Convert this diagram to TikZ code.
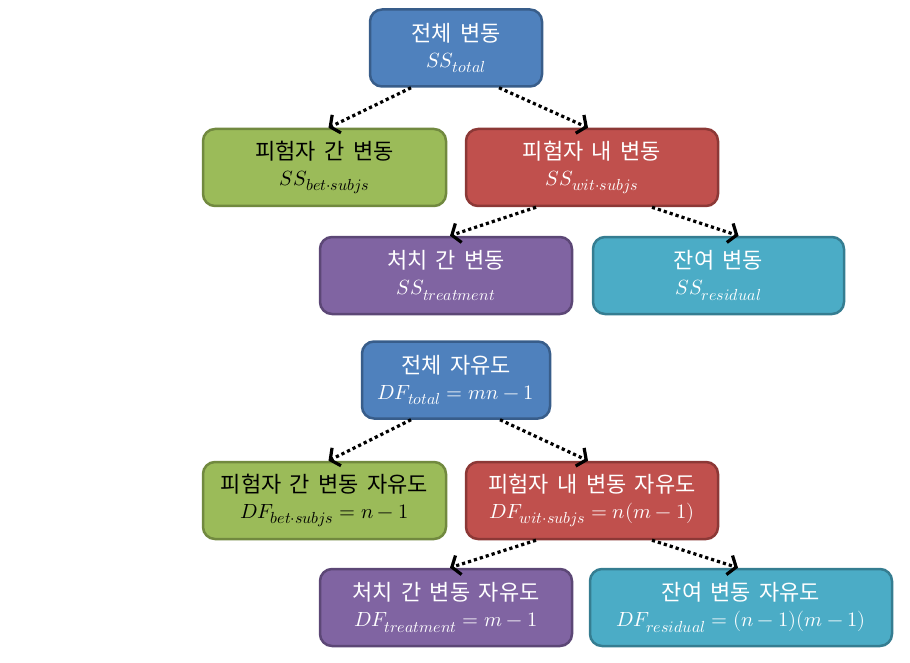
\documentclass[tikz,border=0pt]{standalone}
\usepackage{fontspec}
\usepackage{unicode-math}
\setmainfont{Noto Sans CJK KR}[WordSpace=1.7]
\setmathfont{Latin Modern Math}
\usetikzlibrary{arrows.meta}
\definecolor{bfill}{HTML}{4F81BD}\definecolor{bdraw}{HTML}{385D8A}
\definecolor{gfill}{HTML}{9BBB59}\definecolor{gdraw}{HTML}{71893F}
\definecolor{rfill}{HTML}{C0504D}\definecolor{rdraw}{HTML}{8C3836}
\definecolor{pfill}{HTML}{8064A2}\definecolor{pdraw}{HTML}{5C4776}
\definecolor{afill}{HTML}{4BACC6}\definecolor{adraw}{HTML}{357D91}
\tikzset{
  box/.style={rectangle, rounded corners=12pt, line width=2.5pt, align=center,
    inner sep=0pt, minimum height=77pt, font=\fontsize{22}{26}\selectfont},
  bbox/.style={box, fill=bfill, draw=bdraw, text=white},
  gbox/.style={box, fill=gfill, draw=gdraw, text=black},
  rbox/.style={box, fill=rfill, draw=rdraw, text=white},
  pbox/.style={box, fill=pfill, draw=pdraw, text=white},
  abox/.style={box, fill=afill, draw=adraw, text=white},
  link/.style={line width=3.2pt, dash pattern=on 3.2pt off 3pt,
    -{Straight Barb[length=7pt,width=20pt,line width=3.2pt]}}
}
\newcommand{\mth}[1]{{\fontsize{20.5}{22}\selectfont$#1$}}
\newcommand{\sbs}[1]{_{\mbox{\fontsize{16}{16}\selectfont$#1$}}}
\begin{document}
\begin{tikzpicture}[x=1pt,y=-1pt]
\useasboundingbox (0,0) rectangle (910,663);
% top tree
\node[bbox, minimum width=172pt] (tot) at (456,48) {전체 변동\\\mth{SS\sbs{total}}};
\node[gbox, minimum width=243pt] (g1) at (324.5,167.5) {피험자 간 변동\\\mth{SS\sbs{bet{\cdot}subjs}}};
\node[rbox, minimum width=252pt] (r1) at (592,167.5) {피험자 내 변동\\\mth{SS\sbs{wit{\cdot}subjs}}};
\node[pbox, minimum width=252pt] (p1) at (446,275.5) {처치 간 변동\\\mth{SS\sbs{treatment}}};
\node[abox, minimum width=251pt] (c1) at (718.5,275.5) {잔여 변동\\\mth{SS\sbs{residual}}};
% bottom tree
\node[bbox, minimum width=188pt] (tot2) at (456,380) {전체 자유도\\\mth{DF\sbs{total}=mn-1}};
\node[gbox, minimum width=243pt] (g2) at (324.5,500.5) {피험자 간 변동 자유도\\\mth{DF\sbs{bet{\cdot}subjs}=n-1}};
\node[rbox, minimum width=252pt] (r2) at (592,500.5) {피험자 내 변동 자유도\\\mth{DF\sbs{wit{\cdot}subjs}=n(m-1)}};
\node[pbox, minimum width=252pt] (p2) at (446,607.5) {처치 간 변동 자유도\\\mth{DF\sbs{treatment}=m-1}};
\node[abox, minimum width=302pt] (c2) at (741,607.5) {잔여 변동 자유도\\\mth{DF\sbs{residual}=(n-1)(m-1)}};
% connectors
\draw[link] ([xshift=-45pt]tot.south) -- ([xshift=4pt]g1.north);
\draw[link] ([xshift=43pt]tot.south) -- ([xshift=-4pt]r1.north);
\draw[link] ([xshift=-56pt]r1.south) -- ([xshift=4pt]p1.north);
\draw[link] ([xshift=60pt]r1.south) -- ([xshift=20pt]c1.north);
\draw[link] ([xshift=-45pt]tot2.south) -- ([xshift=4pt]g2.north);
\draw[link] ([xshift=44pt]tot2.south) -- ([xshift=-4pt]r2.north);
\draw[link] ([xshift=-56pt]r2.south) -- ([xshift=4pt]p2.north);
\draw[link] ([xshift=60pt]r2.south) -- ([xshift=-3pt]c2.north);
\end{tikzpicture}
\end{document}
